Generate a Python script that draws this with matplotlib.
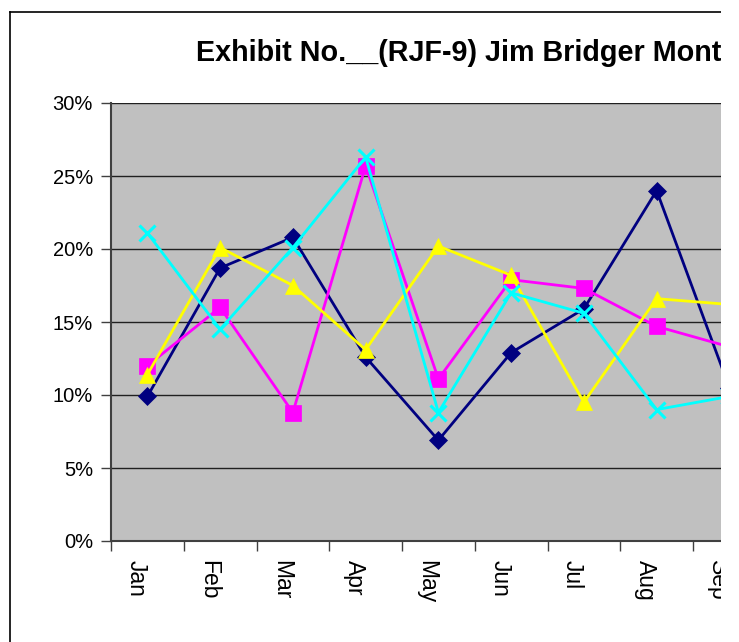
import matplotlib
matplotlib.use("Agg")
import matplotlib.pyplot as plt
from matplotlib.patches import Rectangle
from matplotlib.lines import Line2D
import matplotlib.transforms as mtransforms
import numpy as np

months = ["Jan", "Feb", "Mar", "Apr", "May", "Jun", "Jul", "Aug", "Sep", "Oct", "Nov", "Dec"]

# values, only Jan-Sep are visible
navy_vals = [9.9, 18.7, 20.8, 12.6, 6.9, 12.9, 15.9, 24.0, 10.5]
magenta_vals = [12.0, 16.0, 8.8, 25.7, 11.1, 17.9, 17.3, 14.7, 13.3]
yellow_vals = [11.4, 20.1, 17.5, 13.1, 20.2, 18.2, 9.5, 16.6, 16.2]
cyan_vals = [21.1, 14.5, 20.1, 26.3, 8.8, 17.0, 15.6, 9.0, 9.9]

yticks = [0, 5, 10, 15, 20, 25, 30]

W, H = 739, 642
plt.rcParams["font.family"] = ["Liberation Sans", "DejaVu Sans"]

fig = plt.figure(figsize=(W / 100, H / 100), dpi=100)
fig.patch.set_facecolor("white")

# plot area runs past the right edge of the cropped image
left, right, top, bottom = 111, 984, 103, 541
ax = fig.add_axes([left / W, 1 - bottom / H, (right - left) / W, (bottom - top) / H])
ax.set_facecolor("#C0C0C0")

series = [
    (navy_vals, "#000080", "D", 9),
    (magenta_vals, "#FF00FF", "s", 11),
    (yellow_vals, "#FFFF00", "^", 12),
    (cyan_vals, "#00FFFF", "x", 11),
]
for vals, color, marker, ms in series:
    x = np.arange(len(vals))
    ax.plot(x, vals, color=color, lw=2.0, marker=marker, markersize=ms,
            markeredgewidth=2.2 if marker == "x" else 0.5, markeredgecolor=color,
            markerfacecolor=color, clip_on=False, zorder=3)

ax.set_xlim(-0.5, len(months) - 0.5)
ax.set_ylim(0, 30)
ax.set_yticks(yticks)
ax.set_yticklabels([f"{v}%" for v in yticks], fontsize=14.5)
ax.yaxis.grid(True, color="#202020", lw=1.0)
ax.set_axisbelow(True)

ax.set_xticks(np.arange(-0.5, len(months)))
ax.set_xticklabels([])
ax.set_xticks(np.arange(len(months)), minor=True)
ax.set_xticklabels(months, minor=True, rotation=270, fontsize=16.5, ha="right")
shift = mtransforms.ScaledTranslation(4 / 100, 0, fig.dpi_scale_trans)
for lbl in ax.xaxis.get_minorticklabels():
    lbl.set_transform(lbl.get_transform() + shift)
ax.tick_params(axis="x", which="major", direction="out", length=7, width=1, color="#404040")
ax.tick_params(axis="x", which="minor", length=0, pad=14)
ax.tick_params(axis="y", direction="out", length=7, width=1, color="#404040", pad=6)

for side in ["top", "right"]:
    ax.spines[side].set_visible(False)
ax.spines["left"].set_color("#404040")
ax.spines["bottom"].set_color("#404040")
ax.spines["left"].set_linewidth(1.5)
ax.spines["bottom"].set_linewidth(1.5)

# only this much of the title is visible in the cropped reference
fig.text(196 / W, 1 - 61 / H, "Exhibit No.__(RJF-9) Jim Bridger Mont",
         fontsize=20.7, fontweight="bold", ha="left", va="baseline")

# chart border (left and top visible)
fig.add_artist(Line2D([10 / W, 10 / W], [0, 1 - 12 / H], transform=fig.transFigure,
                      color="black", lw=1.2))
fig.add_artist(Line2D([10 / W, 1], [1 - 12 / H, 1 - 12 / H], transform=fig.transFigure,
                      color="black", lw=1.2))

# the reference is cropped and padded white on the right
fig.add_artist(Rectangle((721 / W, 0), 1 - 721 / W, 1, transform=fig.transFigure,
                         facecolor="white", edgecolor="none", zorder=20))

fig.savefig("out.png", dpi=100)
